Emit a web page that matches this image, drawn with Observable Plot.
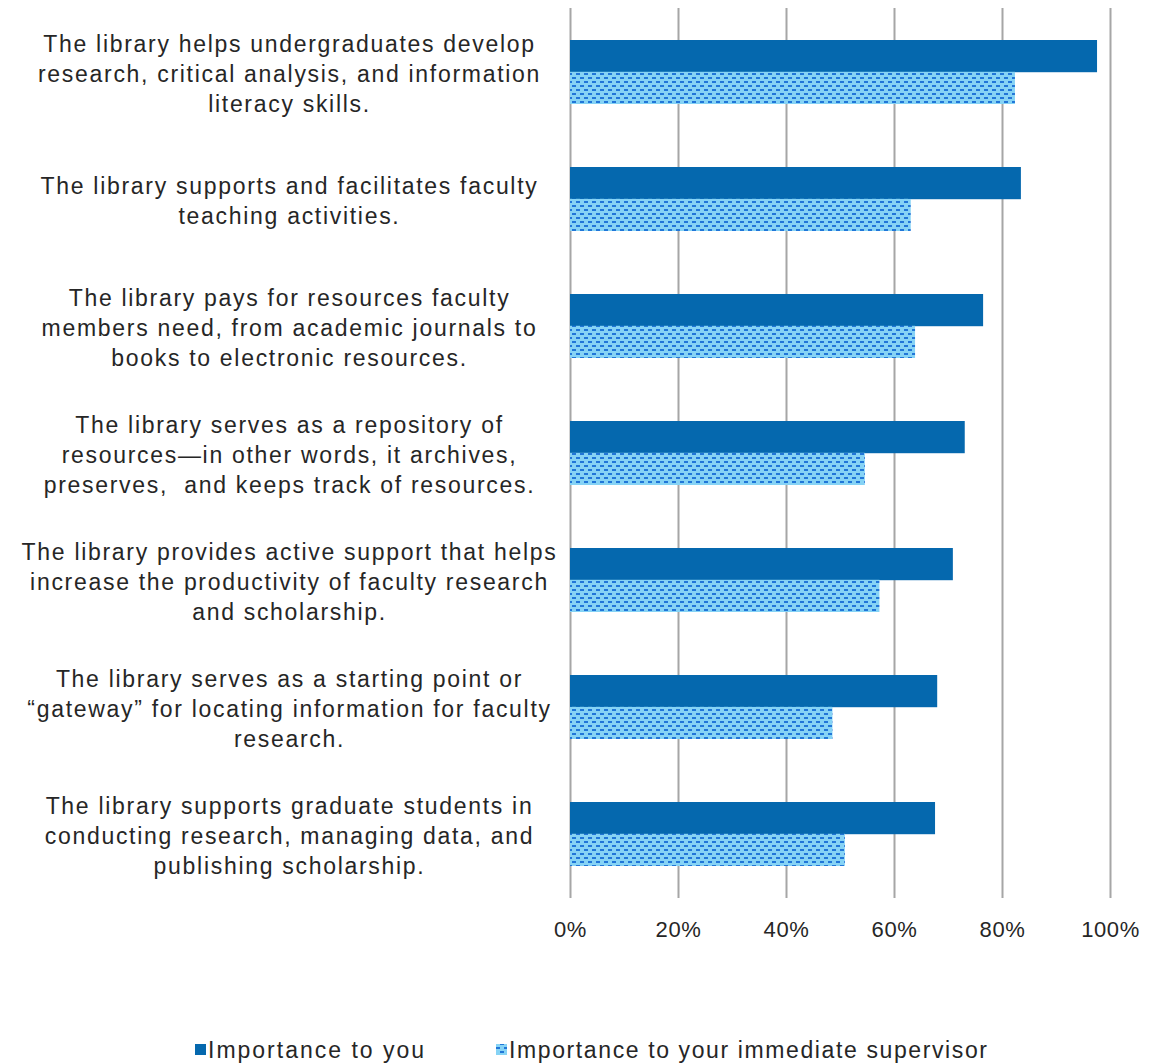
<!DOCTYPE html>
<html>
<head>
<meta charset="utf-8">
<script src="https://cdn.jsdelivr.net/npm/d3@7"></script>
<script src="https://cdn.jsdelivr.net/npm/@observablehq/plot@0.6"></script>
<style>
  html, body { margin: 0; padding: 0; background: #ffffff; }
  #wrap { position: relative; width: 1149px; height: 1063px; font-family: "Liberation Sans", Arial, sans-serif; color: #262626; }
  #legend { position: absolute; left: 0px; top: 1030px; }
</style>
</head>
<body>
<div id="wrap">
  <div id="chart"></div>
  <div id="legend"></div>
</div>
<script>
// ---- data ----
const categories = [
  "The library helps undergraduates develop\nresearch, critical analysis, and information\nliteracy skills.",
  "The library supports and facilitates faculty\nteaching activities.",
  "The library pays for resources faculty\nmembers need, from academic journals to\nbooks to electronic resources.",
  "The library serves as a repository of\nresources\u2014in other words, it archives,\npreserves,  and keeps track of resources.",
  "The library provides active support that helps\nincrease the productivity of faculty research\nand scholarship.",
  "The library serves as a starting point or\n\u201cgateway\u201d for locating information for faculty\nresearch.",
  "The library supports graduate students in\nconducting research, managing data, and\npublishing scholarship."
];
const importanceToYou = [97.6, 83.5, 76.5, 73.1, 70.9, 68.0, 67.6];
const importanceToSupervisor = [82.4, 63.1, 63.9, 54.6, 57.3, 48.6, 50.9];
const xTicks = [0, 20, 40, 60, 80, 100];
const seriesNames = ["Importance to you", "Importance to your immediate supervisor"];

// ---- styling ----
const darkBlue = "#0568ae";
const patternBg = "#86d3f5";
const patternDot = "#2176d8";
const gridColor = "#a6a6a6";
const textColor = "#262626";

const rows = categories.map((c, i) => ({ category: c, you: importanceToYou[i], sup: importanceToSupervisor[i] }));

const H = 960, MT = 8, MB = 62;
const band = (H - MT - MB) / categories.length * 0.5;
const half = band / 2;

const chart = Plot.plot({
  width: 1149,
  height: H,
  marginLeft: 570,
  marginRight: 39,
  marginTop: MT,
  marginBottom: MB,
  style: { fontFamily: "'Liberation Sans', Arial, sans-serif", fontSize: "22px", color: textColor, background: "#ffffff" },
  x: { domain: [0, 100], label: null },
  y: { domain: categories, paddingInner: 0.5, paddingOuter: 0.25, label: null },
  marks: [
    Plot.gridX(xTicks, { stroke: gridColor, strokeOpacity: 1, strokeWidth: 2 }),
    Plot.barX(rows, { x: "you", y: "category", fill: darkBlue, insetBottom: half }),
    Plot.barX(rows, { x: "sup", y: "category", fill: "url(#dots)", insetTop: half }),
    Plot.axisX({ ticks: xTicks, tickFormat: d => d + "%", tickSize: 0, tickPadding: 23, fontSize: 22, fill: textColor }),
    Plot.axisY({ tickSize: 0, tickPadding: 0, textAnchor: "middle", dx: -281, lineHeight: 1.3, fontSize: 23, fill: textColor })
  ]
});
document.getElementById("chart").appendChild(chart);

const svg = d3.select(chart);
svg.selectAll('g[aria-label="x-axis tick label"]').style("letter-spacing", "0.6px");
svg.selectAll('g[aria-label="y-axis tick label"]').style("letter-spacing", "1.7px");

// pattern defs
const defs = svg.insert("defs", ":first-child");
const pat = defs.append("pattern")
  .attr("id", "dots").attr("patternUnits", "userSpaceOnUse")
  .attr("width", 8).attr("height", 8);
pat.append("rect").attr("width", 8).attr("height", 8).attr("fill", patternBg);
pat.append("rect").attr("x", 0).attr("y", 1).attr("width", 4).attr("height", 2).attr("fill", patternDot);
pat.append("rect").attr("x", 4).attr("y", 5).attr("width", 4).attr("height", 2).attr("fill", patternDot);

// legend (SVG, below the chart)
const fills = [darkBlue, "url(#dots)"];
const legendX = [195, 496];
const legendTextLen = [216, 478];
const lsvg = d3.select("#legend").append("svg").attr("width", 1149).attr("height", 33)
  .style("font-family", "'Liberation Sans', Arial, sans-serif").style("font-size", "23px");
seriesNames.forEach((name, i) => {
  lsvg.append("rect").attr("x", legendX[i]).attr("y", 14).attr("width", 11).attr("height", 11).attr("fill", fills[i]);
  lsvg.append("text").attr("x", legendX[i] + 13).attr("y", 28).attr("fill", textColor)
    .attr("textLength", legendTextLen[i]).attr("lengthAdjust", "spacing").text(name);
});
</script>
</body>
</html>
